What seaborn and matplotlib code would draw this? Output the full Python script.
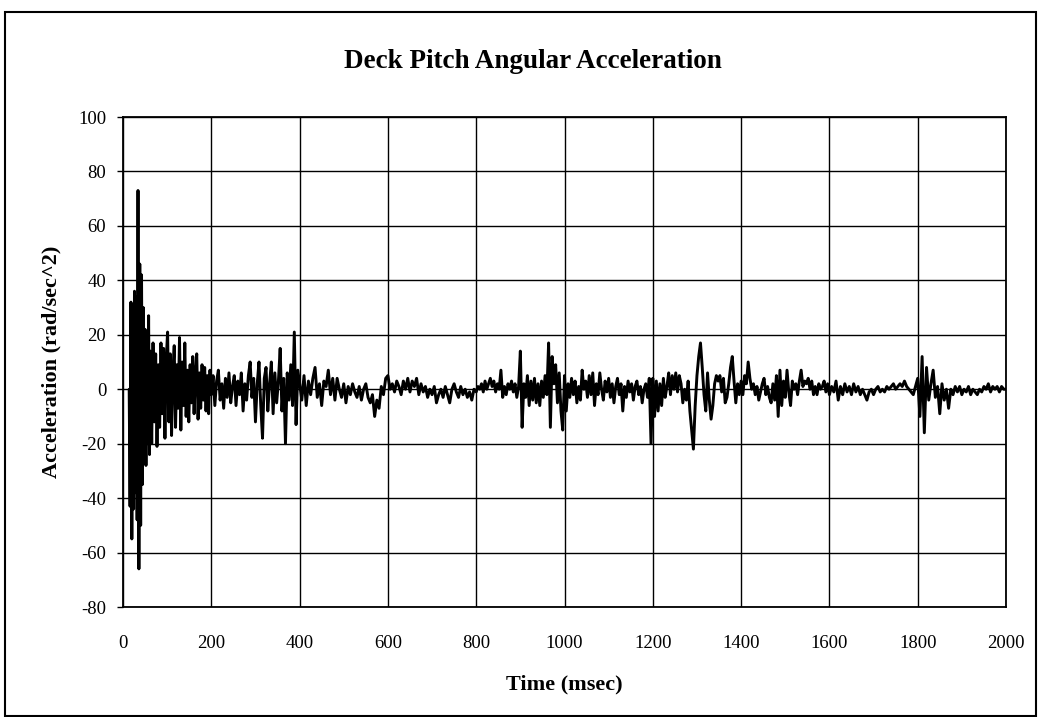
import numpy as np
import pandas as pd
import matplotlib
matplotlib.use("Agg")
import matplotlib.pyplot as plt
from matplotlib.patches import Rectangle
import seaborn as sns

# ---------------- data ----------------
title = "Deck Pitch Angular Acceleration"
x_label = "Time (msec)"
y_label = "Acceleration (rad/sec^2)"
x_ticks = [0, 200, 400, 600, 800, 1000, 1200, 1400, 1600, 1800, 2000]
y_ticks = [-80, -60, -40, -20, 0, 20, 40, 60, 80, 100]

t_a = np.arange(14, 61, 2)
acc_a = [0, -43, 32, -55, 31, -44, 36, -38, 34, -48, 73, -66, 46, -50, 42, -35,
         30, -25, 22, -28, 18, -20, 27, -24]

t_b = np.arange(62, 198, 3)
acc_b = [14, -20, 17, -12, 13, -21, 9, -14, 17, -9, 15, -18, 11, 21, -12, 13,
         -17, 6, 16, -14, 9, -7, 19, -15, 10, -6, 17, -10, 7, -12, 9, -5, 12, -9,
         6, 13, -11, 6, -7, 9, -4, 8, -8, 5, -9, 7]

t_c = np.arange(200, 397, 4)
acc_c = [-2, 5, -6, 3, 7, -4, 2, -7, 4, -3, 6, -5, 1, 5, -6, 3, -2, 6, -8, 2,
         -4, 5, 10, -3, 4, -12, 2, 10, -6, -18, 4, 8, -8, 2, 10, -9, 6, -5, 3, 15,
         -8, 4, -20, 6, -4, 9, -6, 21, -13, 7]

t_d = np.arange(400, 596, 5)
acc_d = [2, -4, 5, -6, 3, -2, 4, 8, -3, 2, -6, 3, 1, 7, -2, 4, -4, 4, 0, -3,
         2, -5, 1, -2, 2, -1, -3, 1, -4, 0, 2, -3, -5, -2, -10, -4, -7, 1, -2, 4]

t_e = np.arange(600, 796, 5)
acc_e = [5, 0, 2, -1, 3, 1, -2, 3, 0, 4, -1, 3, 1, 4, -2, 2, -1, 1, -3, 0,
         -2, 1, -5, -2, 0, -3, 1, -2, -5, 0, 2, -1, -3, 1, -2, 0, -3, -1, -4, 0]

t_f = np.arange(800, 997, 4)
acc_f = [-1, 1, 0, 2, -1, 3, 0, 2, 4, 1, 3, -1, 2, 0, 7, -3, 1, -2, 2, 0,
         3, -1, 2, -3, 1, 14, -14, 2, -3, 5, -6, 3, -4, 4, -5, 2, -6, 3, -3, 5,
         -2, 17, -14, 12, 2, 9, -5, 6, -8, -15]

t_g = np.arange(1000, 1197, 4)
acc_g = [5, -8, 2, -3, 4, -2, 3, -5, 1, -4, 7, 0, 3, -3, 5, -2, 6, -6, 2, -2,
         6, 0, -4, 3, -1, 4, -3, 2, -5, 1, 4, -2, 2, -8, 1, -3, 3, -1, 2, -4,
         1, 3, -2, 1, -5, 0, 2, -3, 4, -20]

t_h = np.arange(1200, 1397, 4)
acc_h = [4, -10, 3, -8, 2, -6, 4, -3, 1, 6, -2, 5, 0, 6, -1, 5, 2, -5, 0, -4,
         3, -8, -15, -22, -6, 5, 12, 17, 8, -2, -8, 6, -4, -11, -6, 2, 5, 3, 5, -1,
         4, -5, -3, 2, 8, 12, 3, -5, 2, -2]

t_i = np.arange(1400, 1597, 4)
acc_i = [3, -2, 5, 2, 10, 4, 0, 2, -2, 1, -4, -1, 2, 4, -2, 1, -3, -5, 2, -4,
         5, -10, 7, -6, 3, -3, 7, -1, -6, 3, 0, 2, -2, 3, 7, 1, 3, 2, 4, 0,
         3, -2, 1, -2, 2, 0, 1, 3, -1, 2]

t_j = np.arange(1600, 1796, 5)
acc_j = [-2, 1, -1, 3, -4, 1, -2, 2, -1, 1, -2, 2, -1, 1, -2, 0, -2, -4, -1, 0,
         -2, 0, 1, -1, 0, -1, 1, 0, 1, 2, 0, 1, 2, 1, 3, 1, 0, -1, -2, 1]

t_k = np.arange(1800, 2001, 5)
acc_k = [4, -10, 12, -16, 8, -4, 2, 7, -3, 1, -9, 2, -4, 0, -7, 0, -2, 1, -1, 1,
         -2, 0, -1, 1, -2, 0, -1, -2, 0, -1, 1, 0, 2, -1, 1, 0, 1, -1, 1, 0, 0]

time_ms = np.concatenate([t_a, t_b, t_c, t_d, t_e, t_f, t_g, t_h, t_i, t_j, t_k])
accel = np.concatenate([acc_a, acc_b, acc_c, acc_d, acc_e, acc_f, acc_g, acc_h,
                        acc_i, acc_j, acc_k]).astype(float)
df = pd.DataFrame({"time": time_ms, "acc": accel})

# ---------------- drawing ----------------
sns.set_theme(style="white")
plt.rcParams["font.family"] = ["Liberation Serif", "DejaVu Serif"]

fig = plt.figure(figsize=(10.41, 7.17), dpi=100)
ax = fig.add_axes([123 / 1041, 1 - 607 / 717, 883 / 1041, 490 / 717])

sns.lineplot(data=df, x="time", y="acc", ax=ax, color="black", linewidth=2.1,
             estimator=None, sort=False)

ax.set_xlim(0, 2000)
ax.set_ylim(-80, 100)
ax.set_xticks(x_ticks)
ax.set_yticks(y_ticks)
ax.set_xticklabels([str(v) for v in x_ticks])
ax.set_yticklabels([str(v) for v in y_ticks])
ax.grid(True, color="black", linewidth=1.0)
ax.set_axisbelow(True)
for s in ax.spines.values():
    s.set_color("black")
    s.set_linewidth(1.3)
ax.tick_params(axis="y", which="both", left=True, length=4, width=1,
               color="black", pad=8, labelsize=13.5, labelcolor="black")
ax.tick_params(axis="x", which="both", bottom=False, length=0, pad=20,
               labelsize=13.5, labelcolor="black")

ax.set_xlabel(x_label, fontsize=16, fontweight="bold", color="black", labelpad=16)
ax.set_ylabel(y_label, fontsize=16, fontweight="bold", color="black", labelpad=12)

fig.text(0.512, 1 - 62 / 717, title, ha="center", va="center",
         fontsize=19.5, fontweight="bold", color="black")

fig.patches.append(Rectangle((5 / 1041, 1 / 717), 1031 / 1041, 704 / 717,
                             transform=fig.transFigure, fill=False,
                             edgecolor="black", linewidth=1.5))

fig.savefig("out.png", dpi=100, facecolor="white")
